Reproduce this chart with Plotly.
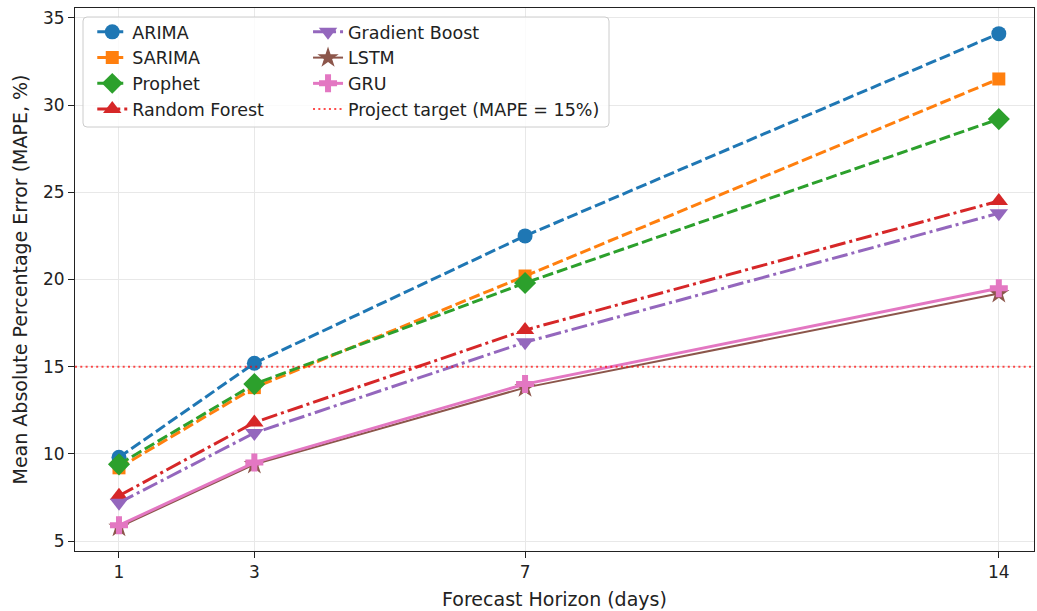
import plotly.graph_objects as go

horizons = [1, 3, 7, 14]
arima = [9.8, 15.2, 22.5, 34.1]
sarima = [9.2, 13.8, 20.2, 31.5]
prophet = [9.4, 14.0, 19.8, 29.2]
random_forest = [7.6, 11.8, 17.1, 24.5]
gradient_boost = [7.2, 11.2, 16.4, 23.8]
lstm = [5.8, 9.4, 13.8, 19.2]
gru = [5.9, 9.5, 14.0, 19.5]
target = 15

series = [
    ("ARIMA", arima, "#1f77b4", "circle", "11px,4px", 3, 15, "legend"),
    ("SARIMA", sarima, "#ff7f0e", "square", "11px,4px", 3, 13, "legend"),
    ("Prophet", prophet, "#2ca02c", "diamond", "11px,4px", 3, 17, "legend"),
    ("Random Forest", random_forest, "#d62728", "triangle-up", "16px,4px,3px,4px", 3, 16, "legend"),
    ("Gradient Boost", gradient_boost, "#9467bd", "triangle-down", "16px,4px,3px,4px", 3, 16, "legend2"),
    ("LSTM", lstm, "#8c564b", "star", "solid", 2, 16, "legend2"),
    ("GRU", gru, "#e377c2", "cross", "solid", 3, 15, "legend2"),
]

fig = go.Figure()
for name, vals, color, sym, dash, lw, ms, leg in series:
    fig.add_trace(go.Scatter(
        x=horizons, y=vals, name=name, mode="lines+markers",
        line=dict(color=color, width=lw, dash=dash),
        marker=dict(symbol=sym, size=ms, color=color, line=dict(width=0)),
        legend=leg,
    ))

fig.add_trace(go.Scatter(
    x=[0.35, 14.52], y=[target, target], name="Project target (MAPE = 15%)",
    mode="lines", line=dict(color="rgba(255,0,0,0.7)", width=2, dash="2px,3.3px"),
    legend="legend2",
))

# legend frame (rounded box) in pixel offsets from top-left of plot area
frame_path = ("M 12,-9 L 530,-9 Q 534,-9 534,-13 L 534,-115 Q 534,-119 530,-119 "
              "L 12,-119 Q 8,-119 8,-115 L 8,-13 Q 8,-9 12,-9 Z")
fig.add_shape(
    type="path", xref="paper", yref="paper", xsizemode="pixel", ysizemode="pixel",
    xanchor=0, yanchor=1, path=frame_path, layer="above",
    fillcolor="rgba(255,255,255,0.8)", line=dict(color="#cccccc", width=1),
)

leg_common = dict(
    orientation="v", xanchor="left", yanchor="top",
    bgcolor="rgba(0,0,0,0)", borderwidth=0,
    font=dict(size=17.5, family="DejaVu Sans", color="#222"),
    tracegroupgap=0, itemwidth=30,
)

fig.update_layout(
    width=1037, height=611,
    margin=dict(l=75, r=3, t=8, b=60, autoexpand=False),
    paper_bgcolor="white", plot_bgcolor="white",
    font=dict(family="DejaVu Sans", size=17, color="#222"),
    showlegend=True,
    legend=dict(x=0.018, y=0.989, **leg_common),
    legend2=dict(x=0.243, y=0.989, **leg_common),
    xaxis=dict(
        range=[0.35, 14.52], tickvals=horizons, ticktext=[str(h) for h in horizons],
        title=dict(text="Forecast Horizon (days)", font=dict(size=19), standoff=11),
        showgrid=True, gridcolor="#e8e8e8", gridwidth=1, automargin=False,
        showline=True, linecolor="#222", linewidth=1, mirror=True,
        ticks="outside", ticklen=6, tickcolor="#222", zeroline=False,
    ),
    yaxis=dict(
        range=[4.43, 35.57], tickvals=[5, 10, 15, 20, 25, 30, 35],
        title=dict(text="Mean Absolute Percentage Error (MAPE, %)", font=dict(size=19), standoff=10),
        showgrid=True, gridcolor="#e8e8e8", gridwidth=1, automargin=False,
        showline=True, linecolor="#222", linewidth=1, mirror=True,
        ticks="outside", ticklen=6, tickcolor="#222", zeroline=False,
    ),
)

fig.write_html("out.html", post_script="document.body.style.margin='0';",
               config={"displayModeBar": False})
